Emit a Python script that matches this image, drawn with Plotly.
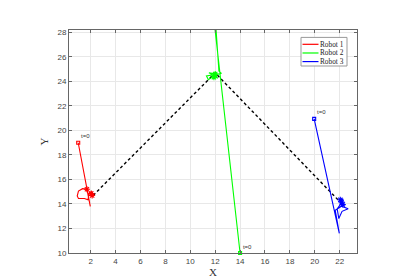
import plotly.graph_objects as go

# ---- data ----
robot1_x = [1.00, 1.97, 1.70, 1.35, 1.02, 0.92, 1.02, 1.50, 1.78, 1.90, 2.10, 2.22, 2.05, 2.18, 2.12]
robot1_y = [19.00, 13.80, 15.20, 15.25, 15.05, 14.65, 14.45, 14.45, 14.35, 14.95, 15.00, 14.70, 14.60, 14.85, 14.70]

robot2_x = [14.00, 11.85, 11.95, 12.30, 12.50, 11.30, 11.45, 12.15, 11.50, 12.20, 11.95]
robot2_y = [10.00, 29.50, 30.00, 24.85, 24.65, 24.45, 24.15, 24.60, 24.70, 24.25, 24.60]

robot3_x = [19.95, 21.97, 21.64, 22.14, 22.68, 22.19, 21.93, 21.80, 22.09, 22.27, 22.00, 22.15]
robot3_y = [20.95, 11.60, 13.48, 13.82, 13.61, 13.40, 12.81, 13.60, 14.02, 14.42, 14.28, 14.15]

end1_x = [1.70, 2.12, 2.05]
end1_y = [15.20, 14.70, 14.85]
end2_x = [12.00, 11.90]
end2_y = [24.60, 24.35]
end3_x = [22.15, 22.05, 22.25]
end3_y = [14.15, 14.35, 13.95]

formation_x = [2.20, 12.00, 21.90]
formation_y = [14.70, 24.70, 14.30]

names = ["Robot 1", "Robot 2", "Robot 3"]
colors = ["#ff0000", "#00ff00", "#0000ff"]

x_ticks = [2, 4, 6, 8, 10, 12, 14, 16, 18, 20, 22]
y_ticks = [10, 12, 14, 16, 18, 20, 22, 24, 26, 28]

W, H = 397, 279
ML, MR, MT, MB = 61, 48, 22, 31
PW, PH = W - ML - MR, H - MT - MB


def px2paper_x(px):
    return (px - ML) / PW


def px2paper_y(py):
    return (H - MB - py) / PH


fig = go.Figure()

paths = [(robot1_x, robot1_y), (robot2_x, robot2_y), (robot3_x, robot3_y)]
ends = [(end1_x, end1_y), (end2_x, end2_y), (end3_x, end3_y)]

# formation dashed line
fig.add_trace(go.Scatter(x=formation_x, y=formation_y, mode="lines",
                         line=dict(color="black", width=1.4, dash="3px,2.5px"),
                         showlegend=False, hoverinfo="skip"))

for (px, py), (ex, ey), name, col in zip(paths, ends, names, colors):
    fig.add_trace(go.Scatter(x=px, y=py, mode="lines", name=name, showlegend=False,
                             line=dict(color=col, width=1.1)))
    fig.add_trace(go.Scatter(x=ex, y=ey, mode="markers", showlegend=False,
                             marker=dict(symbol="asterisk-open", size=5, color=col,
                                         line=dict(color=col, width=1.1)),
                             hoverinfo="skip"))
    fig.add_trace(go.Scatter(x=[px[0]], y=[py[0]], mode="markers+text", showlegend=False,
                             text=["t=0"], textposition="top right",
                             textfont=dict(size=6, color="#333333", family="Liberation Sans"),
                             marker=dict(symbol="square-open", size=3, color=col,
                                         line=dict(color=col, width=1.1)),
                             cliponaxis=False, hoverinfo="skip"))

# compact legend (MATLAB-style)
box_l, box_r, box_t, box_b = 293, 339, 29.5, 58.5
fig.add_shape(type="rect", xref="paper", yref="paper",
              x0=px2paper_x(box_l), x1=px2paper_x(box_r),
              y0=px2paper_y(box_b), y1=px2paper_y(box_t),
              line=dict(color="#999999", width=1), fillcolor="white", layer="above")
row_y = [36.5, 45.3, 54.0]
for name, col, ry in zip(names, colors, row_y):
    fig.add_shape(type="line", xref="paper", yref="paper",
                  x0=px2paper_x(294.5), x1=px2paper_x(310.5),
                  y0=px2paper_y(ry), y1=px2paper_y(ry),
                  line=dict(color=col, width=1.2), layer="above")
    fig.add_annotation(xref="paper", yref="paper", x=px2paper_x(310.5), y=px2paper_y(ry),
                       xanchor="left", yanchor="middle", showarrow=False, text=name,
                       borderpad=0,
                       font=dict(family="Liberation Serif", size=7.3, color="#222222"))

axis_common = dict(showline=True, mirror="ticks", linecolor="#666666", linewidth=1,
                   ticks="inside", ticklen=3, tickcolor="#666666",
                   showgrid=True, gridcolor="#e8e8e8", gridwidth=1, zeroline=False,
                   tickfont=dict(family="Liberation Sans", size=8, color="#444444"))

fig.update_xaxes(range=[0.26, 23.39], tickvals=x_ticks,
                 title=dict(text="X", font=dict(family="Liberation Serif", size=11, color="#333333"),
                            standoff=2),
                 **axis_common)
fig.update_yaxes(range=[10, 28.2], tickvals=y_ticks,
                 title=dict(text="Y", font=dict(family="Liberation Serif", size=11, color="#333333"),
                            standoff=6),
                 **axis_common)

fig.update_layout(
    width=W, height=H,
    margin=dict(l=ML, r=MR, t=MT, b=MB),
    plot_bgcolor="white", paper_bgcolor="white",
    showlegend=False,
)

fig.write_html("out.html")
